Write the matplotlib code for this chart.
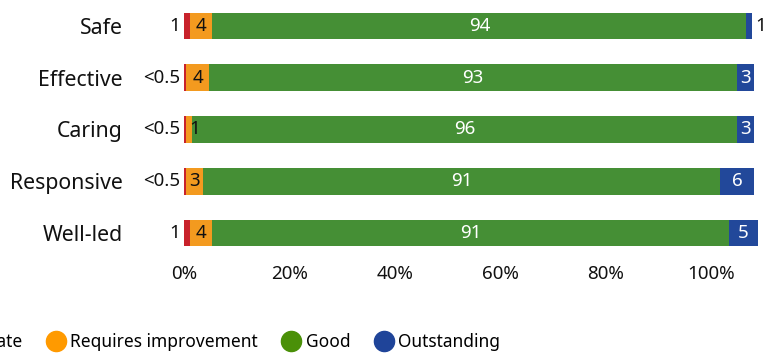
import matplotlib
matplotlib.use('Agg')
import matplotlib.pyplot as plt
from matplotlib.lines import Line2D

plt.rcParams['font.family'] = ['Noto Sans', 'DejaVu Sans']

# Ratings by key question, percentages
questions = ['Safe', 'Effective', 'Caring', 'Responsive', 'Well-led']
inadequate = [1, 0.4, 0.4, 0.4, 1]
inadequate_text = ['1', '<0.5', '<0.5', '<0.5', '1']
requires_improvement = [4, 4, 1, 3, 4]
good = [94, 93, 96, 91, 91]
outstanding = [1, 3, 3, 6, 5]

rating_names = ['Inadequate', 'Requires improvement', 'Good', 'Outstanding']
rating_colors = ['#C8222B', '#F39A1F', '#458F35', '#22489A']
legend_colors = ['#C8222B', '#FF9A00', '#4A9008', '#1F4499']

tick_values = [0, 20, 40, 60, 80, 100]
tick_labels = ['0%', '20%', '40%', '60%', '80%', '100%']

W, H = 765, 354
fig = plt.figure(figsize=(W / 100, H / 100), dpi=100)
ax = fig.add_axes([184 / W, 95 / H, 568 / W, 259 / H])

series = [inadequate, requires_improvement, good, outstanding]
y = list(range(len(questions)))
left = [0] * len(questions)
for vals, col in zip(series, rating_colors):
    ax.barh(y, vals, left=left, height=0.51, color=col, clip_on=False)
    left = [l + v for l, v in zip(left, vals)]

fs = 13.5
dark = '#111111'
for i in y:
    # inadequate: outside, left of the bar
    ax.text(-0.7, i, inadequate_text[i], ha='right', va='center',
            fontsize=fs, color=dark)
    # requires improvement: near the start of its segment
    start = inadequate[i]
    w = requires_improvement[i]
    ax.text(start + max(w / 2, 1.5), i, str(w), ha='center', va='center',
            fontsize=fs, color=dark)
    # good: centred, white
    start = inadequate[i] + requires_improvement[i]
    ax.text(start + good[i] / 2, i, str(good[i]), ha='center', va='center',
            fontsize=fs, color='white')
    # outstanding: white inside, or black outside when too narrow
    start += good[i]
    w = outstanding[i]
    if w >= 2:
        ax.text(start + w / 2, i, str(w), ha='center', va='center',
                fontsize=fs, color='white')
    else:
        ax.text(start + w + 0.5, i, str(w), ha='left', va='center',
                fontsize=fs, color=dark, clip_on=False)

ax.set_xlim(0, 100)
ax.set_ylim(len(questions) - 0.5, -0.5)
ax.set_yticks(y)
ax.set_yticklabels(questions, fontsize=15.3, color=dark)
ax.tick_params(axis='y', length=0, pad=44)
ax.set_xticks([t * 0.928 for t in tick_values])
ax.set_xticklabels(tick_labels, fontsize=13.5, color=dark)
ax.tick_params(axis='x', length=0, pad=4.5)
for s in ax.spines.values():
    s.set_visible(False)

handles = [Line2D([], [], marker='o', linestyle='none', markersize=14.5,
                  markerfacecolor=c, markeredgecolor=c) for c in legend_colors]
fig.legend(handles, rating_names, loc='center left', ncol=4,
           bbox_to_anchor=(-95 / W, 12 / H), frameon=False, fontsize=12.5,
           borderpad=0, borderaxespad=0, handlelength=1.0, handletextpad=0.35,
           columnspacing=1.4)

fig.savefig('out.png', dpi=100)
